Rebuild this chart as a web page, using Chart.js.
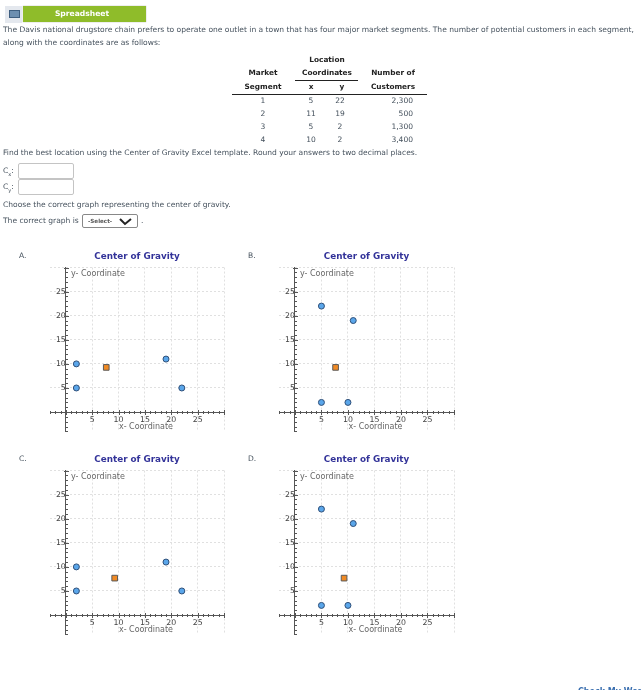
<!DOCTYPE html>
<html><head><meta charset="utf-8">
<script src="https://cdn.jsdelivr.net/npm/chart.js@4"></script>
<style>
html,body{margin:0;padding:0;background:#fff;width:641px;height:690px;overflow:hidden}
#page{position:absolute;left:0;top:0;width:641px;height:690px;overflow:hidden;font-family:"DejaVu Sans",sans-serif;font-size:7.55px;color:#44505c;filter:blur(.3px)}
.t{position:absolute;white-space:nowrap;line-height:12px}
.b{font-weight:bold;color:#222;font-size:7.35px}
.c{transform:translateX(-50%)}
.r{transform:translateX(-100%)}
.rule{position:absolute;height:1px;background:#222}
canvas{position:absolute}
.box{position:absolute;background:#fff;border:1px solid #c4c4c4;border-radius:2px;box-sizing:border-box;width:56px;height:16px;left:18px}
</style></head><body>
<div id="page">
<div style="position:absolute;left:5px;top:6px;width:17px;height:17px;background:#e4e8ee"></div>
<div style="position:absolute;left:9px;top:10px;width:11px;height:8px;background:#6d8fb0;border:1px solid #3f5f80;box-sizing:border-box"></div>
<div style="position:absolute;left:23px;top:6px;width:123px;height:16px;background:#8fbc2a;box-shadow:0 0 1px #999"></div>
<div class="t c" style="left:82px;top:8px;color:#fff;font-weight:bold;font-size:7.6px">Spreadsheet</div>
<div class="t" style="left:3px;top:24px">The Davis national drugstore chain prefers to operate one outlet in a town that has four major market segments. The number of potential customers in each segment,</div>
<div class="t" style="left:3px;top:37px">along with the coordinates are as follows:</div>

<div class="t b c" style="left:263px;top:67px">Market</div>
<div class="t b c" style="left:263px;top:81px">Segment</div>
<div class="t b c" style="left:327px;top:54px">Location</div>
<div class="t b c" style="left:327px;top:67px">Coordinates</div>
<div class="t b c" style="left:311px;top:81px">x</div>
<div class="t b c" style="left:342px;top:81px">y</div>
<div class="t b c" style="left:393px;top:67px">Number of</div>
<div class="t b c" style="left:393px;top:81px">Customers</div>
<div class="rule" style="left:295px;top:80px;width:63px"></div>
<div class="rule" style="left:232px;top:94px;width:195px"></div>
<div id="rows"></div>

<div class="t" style="left:3px;top:147px">Find the best location using the Center of Gravity Excel template. Round your answers to two decimal places.</div>
<div class="t" style="left:3px;top:165px">C<sub style="font-size:5px;line-height:0">x</sub>:</div>
<div class="box" style="top:163px"></div>
<div class="t" style="left:3px;top:181px">C<sub style="font-size:5px;line-height:0">y</sub>:</div>
<div class="box" style="top:179px"></div>
<div class="t" style="left:3px;top:199px">Choose the correct graph representing the center of gravity.</div>
<div class="t" style="left:3px;top:215px">The correct graph is</div>
<div style="position:absolute;left:82px;top:214px;width:56px;height:14px;border:1px solid #888;border-radius:2px;box-sizing:border-box;background:#fff"></div>
<div class="t b" style="left:88px;top:215px;font-size:5.6px;color:#555">-Select-</div>
<svg style="position:absolute;left:119px;top:218px" width="14" height="8"><path d="M1 1 L6 6 L12 1" fill="none" stroke="#222" stroke-width="2"/></svg>
<div class="t" style="left:141px;top:215px">.</div>

<div class="t" style="left:19px;top:250px">A.</div>
<div class="t" style="left:248px;top:250px">B.</div>
<div class="t" style="left:19px;top:453px">C.</div>
<div class="t" style="left:248px;top:453px">D.</div>

<canvas id="chartA" width="184" height="190" style="left:45px;top:249px"></canvas>
<canvas id="chartB" width="185" height="190" style="left:274px;top:249px"></canvas>
<canvas id="chartC" width="184" height="190" style="left:45px;top:452px"></canvas>
<canvas id="chartD" width="185" height="190" style="left:274px;top:452px"></canvas>

<div class="t" style="left:578px;top:686px;color:#3a6fb0;font-weight:bold;font-size:8px">Check My Work</div>
</div>
<script>
// Table values
const segments = ['1','2','3','4'];
const coordX = ['5','11','5','10'];
const coordY = ['22','19','2','2'];
const customers = ['2,300','500','1,300','3,400'];

// Chart values
const chartTitle = 'Center of Gravity';
const xAxisLabel = 'x- Coordinate';
const yAxisLabel = 'y- Coordinate';
const labeledTicks = [5,10,15,20,25];
const swappedX = [22,19,2,2];
const swappedY = [5,11,5,10];
const plainX = [5,11,5,10];
const plainY = [22,19,2,2];
const centerAX = [7.67], centerAY = [9.27];
const centerCX = [9.27], centerCY = [7.67];

const rowsEl = document.getElementById('rows');
segments.forEach((s,i)=>{
  const top = 95 + Math.round(i*13.1);
  rowsEl.insertAdjacentHTML('beforeend',
    `<div class="t c" style="left:263px;top:${top}px">${s}</div>`+
    `<div class="t c" style="left:311px;top:${top}px">${coordX[i]}</div>`+
    `<div class="t c" style="left:340px;top:${top}px">${coordY[i]}</div>`+
    `<div class="t r" style="left:413px;top:${top}px">${customers[i]}</div>`);
});

const zip = (xs,ys)=>xs.map((x,i)=>({x,y:ys[i]}));

const axisDecor = {
  id:'axisDecor',
  afterDraw(chart){
    const {ctx,scales:{x,y}} = chart;
    const x0 = Math.round(x.getPixelForValue(0)), y0 = Math.round(y.getPixelForValue(0));
    const len = v => v%5===0 ? 2 : 1;
    ctx.save();
    ctx.strokeStyle='#555'; ctx.lineWidth=1; ctx.beginPath();
    x.ticks.forEach(t=>{const p=Math.round(x.getPixelForValue(t.value))+.5,l=len(t.value); ctx.moveTo(p,y0-l); ctx.lineTo(p,y0+l+1);});
    y.ticks.forEach(t=>{const p=Math.round(y.getPixelForValue(t.value))+.5,l=len(t.value); ctx.moveTo(x0-l,p); ctx.lineTo(x0+l+1,p);});
    ctx.stroke();
    ctx.fillStyle='#666'; ctx.font='8px "DejaVu Sans"';
    ctx.textBaseline='middle';
    ctx.textAlign='left';
    ctx.fillText(yAxisLabel, x0+5, y.getPixelForValue(28.75));
    ctx.textAlign='center';
    ctx.fillText(xAxisLabel, x.getPixelForValue(15.2), y.getPixelForValue(-3.1));
    ctx.restore();
  }
};

function axis(min,other,pad){
  return {
    type:'linear', min, max:30,
    position:{[other]:0},
    ticks:{stepSize:1,autoSkip:false,maxRotation:0,minRotation:0,padding:pad,
      color:'#444',font:{family:'"DejaVu Sans"',size:7.8},
      callback:v=>labeledTicks.includes(v)?String(v):''},
    grid:{drawTicks:false,
      color:c=>(c.tick.value%5===0&&c.tick.value>0)?'#e0e0e0':'rgba(0,0,0,0)'},
    border:{display:true,color:'#555',width:1,dash:[2,2]}
  };
}

function draw(id,xs,ys,cx,cy){
  new Chart(document.getElementById(id),{
    type:'scatter',
    data:{datasets:[
      {label:'Center',data:zip(cx,cy),pointStyle:'rect',pointRadius:4,pointBackgroundColor:'#f08a24',pointBorderColor:'#5a5a5a',pointBorderWidth:1},
      {label:'Segments',data:zip(xs,ys),pointStyle:'circle',pointRadius:3,pointBackgroundColor:'#5aa6ea',pointBorderColor:'#2f4f78',pointBorderWidth:1}
    ]},
    options:{
      responsive:false,animation:false,
      layout:{padding:0},
      plugins:{
        legend:{display:false},tooltip:{enabled:false},
        title:{display:true,text:chartTitle,color:'#333399',
          font:{family:'"DejaVu Sans"',size:8.8,weight:'bold'},padding:{top:2,bottom:6},
          align:'center'}
      },
      scales:{x:axis(-3,'y',3),y:axis(-4,'x',3)}
    },
    plugins:[axisDecor]
  });
}
draw('chartA',swappedX,swappedY,centerAX,centerAY);
draw('chartB',plainX,plainY,centerAX,centerAY);
draw('chartC',swappedX,swappedY,centerCX,centerCY);
draw('chartD',plainX,plainY,centerCX,centerCY);
</script>
</body></html>
